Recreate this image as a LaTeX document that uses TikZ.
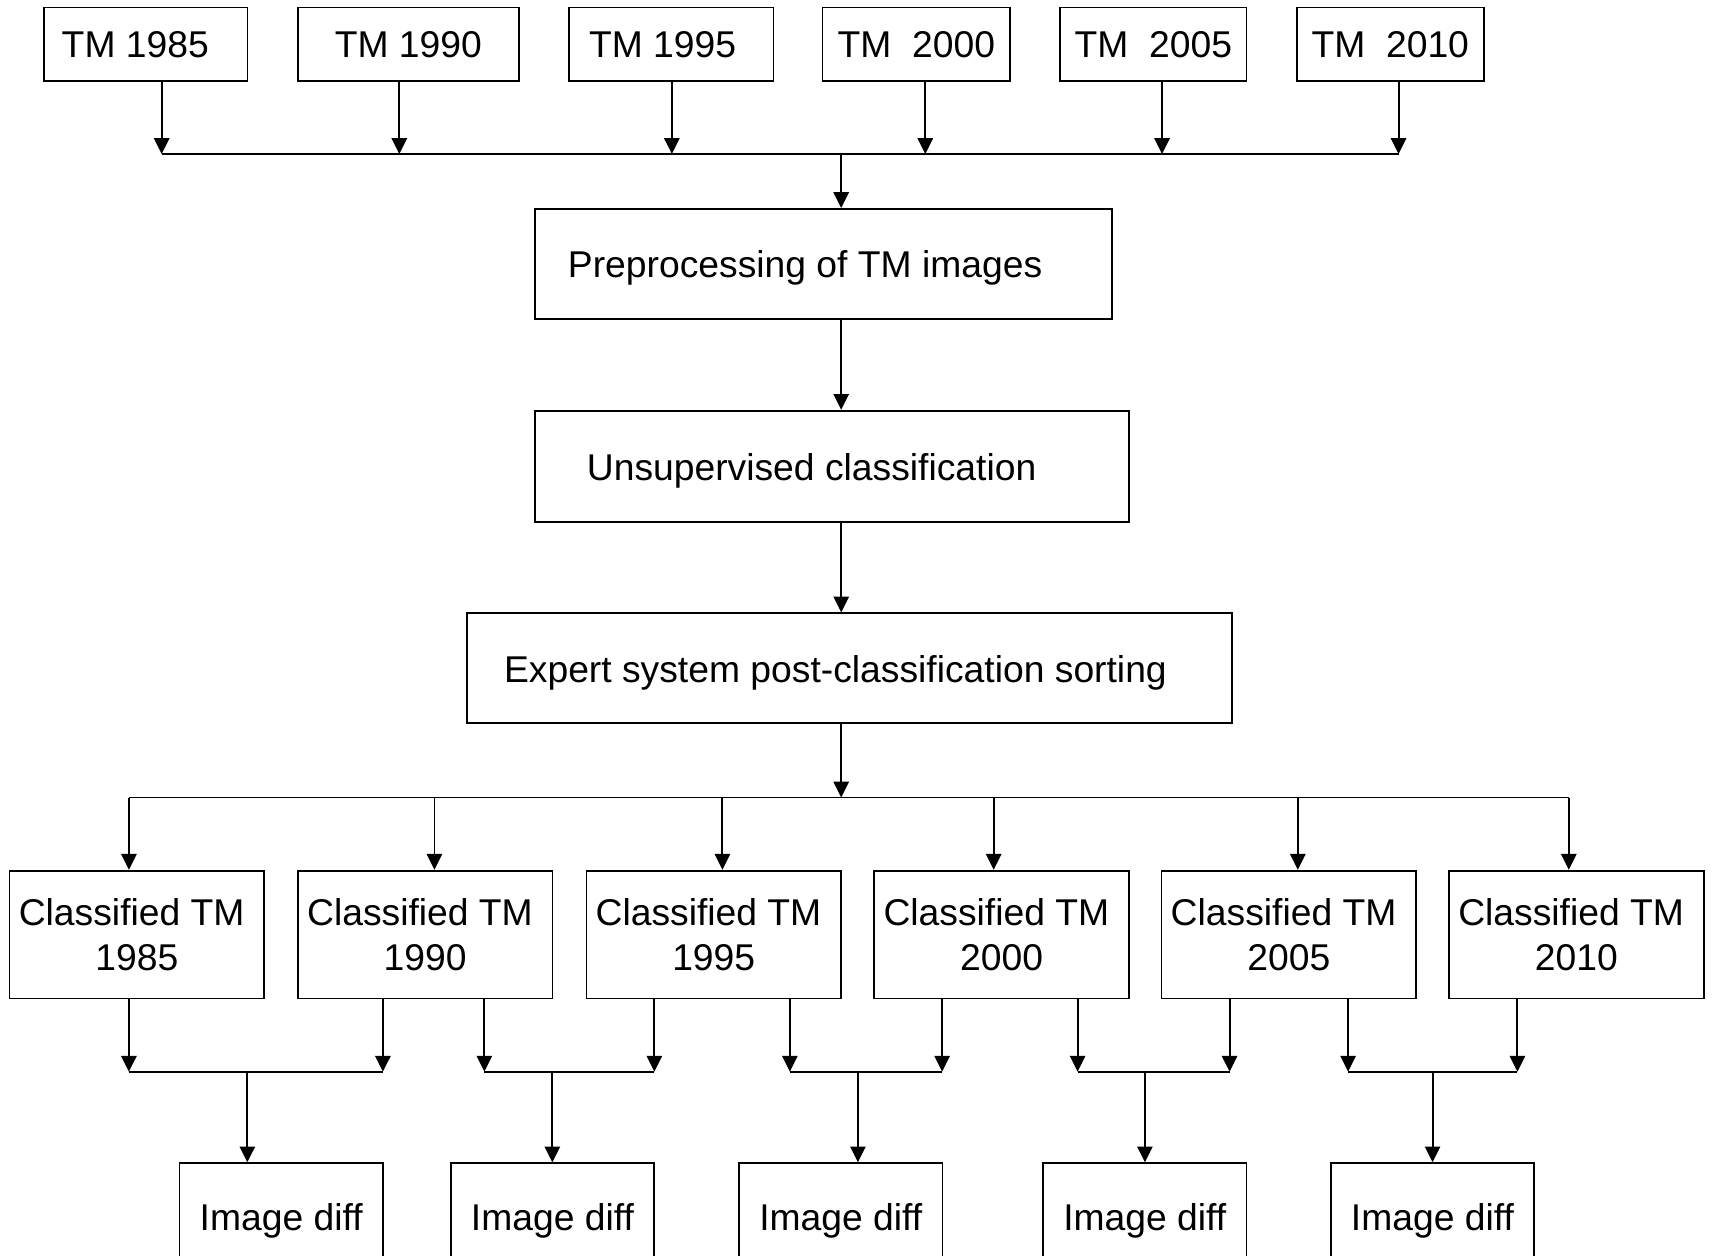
\documentclass[tikz,border=0pt]{standalone}
\usepackage{fontspec}
\setmainfont{Liberation Sans}
\usetikzlibrary{arrows.meta}

\begin{document}
\begin{tikzpicture}[x=0.01cm,y=-0.01cm,
	font=\fontsize{9.7}{11.7}\selectfont,
	box/.style={draw=black,line width=0.45pt,inner sep=0pt,text height=0.72em,text depth=0pt},
	topbox/.style={box,minimum height=0.67cm},
	clbox/.style={draw=black,line width=0.45pt,inner sep=0pt,align=center,
		minimum width=2.33cm,minimum height=1.17cm},
	diffbox/.style={box,minimum width=1.86cm,minimum height=0.974cm},
	arr/.style={line width=0.5pt,-{Triangle[length=0.145cm,width=0.14cm]}},
	bus/.style={line width=0.5pt}]
	
	\useasboundingbox (0,0) rectangle (1568,1149);
	\clip (0,0) rectangle (1568,1149);
	
	% input images
	\node[topbox,minimum width=1.864cm] (tm85) at (133.2,40.4) {TM 1985\kern0.55em};
	\node[topbox,minimum width=2.025cm] (tm90) at (373.8,40.4) {TM 1990};
	\node[topbox,minimum width=1.873cm] (tm95) at (614.4,40.4) {TM 1995\kern0.46em};
	\node[topbox,minimum width=1.715cm] (tm00) at (838.8,40.4) {TM\ \ 2000};
	\node[topbox,minimum width=1.707cm] (tm05) at (1055.7,40.4) {TM\ \ 2005};
	\node[topbox,minimum width=1.708cm] (tm10) at (1272.6,40.4) {TM\ \ 2010};
	
	\coordinate (b85) at (148,141);
	\coordinate (b90) at (365.5,141);
	\coordinate (b95) at (615,141);
	\coordinate (b00) at (847,141);
	\coordinate (b05) at (1063.7,141);
	\coordinate (b10) at (1280.2,141);
	\coordinate (bm) at (770,141);
	
	\foreach \y in {85,90,95,00,05,10}
	\draw[arr] (b\y |- tm\y.south) -- (b\y);
	\draw[bus] (b85) -- (b10);
	
	% processing chain
	\node[box,minimum width=5.28cm,minimum height=1.01cm] (pre) at (754,241.8)
	{Preprocessing of TM images\kern1em};
	\node[box,minimum width=5.43cm,minimum height=1.015cm] (uns) at (761.5,426.75)
	{Unsupervised classification\kern1.09em};
	\node[box,minimum width=6.998cm,minimum height=1.006cm] (exp) at (777.5,611.7)
	{Expert system post-classification sorting\kern0.75em};
	
	\draw[arr] (bm) -- (bm |- pre.north);
	\draw[arr] (bm |- pre.south) -- (bm |- uns.north);
	\draw[arr] (bm |- uns.south) -- (bm |- exp.north);
	
	\coordinate (cm) at (770,730);
	\draw[arr] (bm |- exp.south) -- (cm);
	
	% classified images
	\node[clbox] (cl85) at (125.3,855.5) {Classified TM\kern0.28em\\1985};
	\node[clbox] (cl90) at (389.2,855.5) {Classified TM\kern0.28em\\1990};
	\node[clbox] (cl95) at (653.3,855.5) {Classified TM\kern0.28em\\1995};
	\node[clbox] (cl00) at (916.8,855.5) {Classified TM\kern0.28em\\2000};
	\node[clbox] (cl05) at (1179.7,855.5) {Classified TM\kern0.28em\\2005};
	\node[clbox] (cl10) at (1442.9,855.5) {Classified TM\kern0.28em\\2010};
	
	\coordinate (c85) at (118,730);
	\coordinate (c90) at (397.7,730);
	\coordinate (c95) at (661.3,730);
	\coordinate (c00) at (909.6,730);
	\coordinate (c05) at (1188,730);
	\coordinate (c10) at (1436,730);
	
	\draw[bus] (c85) -- (c10);
	\foreach \y in {85,90,95,00,05,10}
	\draw[arr] (c\y) -- (c\y |- cl\y.north);
	
	% differences
	\node[diffbox] (df1) at (257.35,1113.5) {Image diff};
	\node[diffbox] (df2) at (505.65,1113.5) {Image diff};
	\node[diffbox] (df3) at (769.65,1113.5) {Image diff};
	\node[diffbox] (df4) at (1047.85,1113.5) {Image diff};
	\node[diffbox] (df5) at (1311.15,1113.5) {Image diff};
	
	\foreach \i/\l/\r/\xl/\xr/\xm in {1/85/90/118/350.5/226.4,2/90/95/443.4/599/505.6,
		3/95/00/723/862.4/785.3,4/00/05/986.4/1125.5/1048,5/05/10/1234/1389/1311.3}
	{
		\coordinate (dl\i) at (\xl,981);
		\coordinate (dr\i) at (\xr,981);
		\coordinate (dm\i) at (\xm,981);
		\draw[arr] (dl\i |- cl\l.south) -- (dl\i);
		\draw[arr] (dr\i |- cl\r.south) -- (dr\i);
		\draw[bus] (dl\i) -- (dr\i);
		\draw[arr] (dm\i) -- (dm\i |- df\i.north);
	}
	
\end{tikzpicture}
\end{document}
